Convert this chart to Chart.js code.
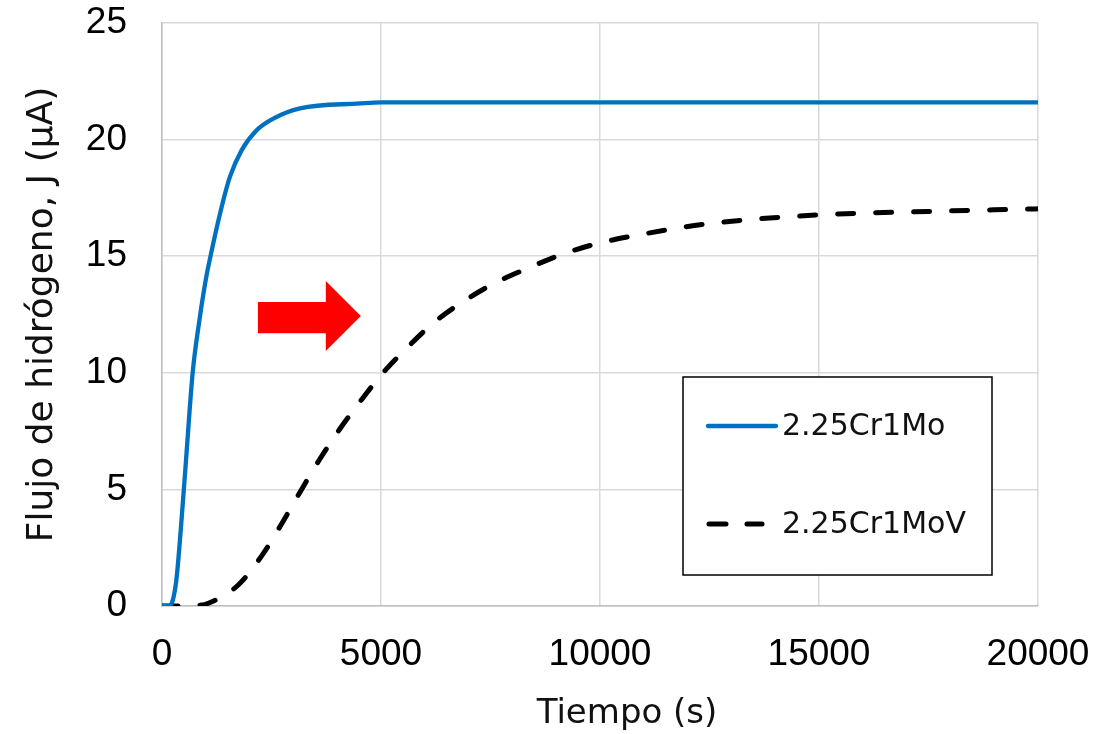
<!DOCTYPE html>
<html>
<head>
<meta charset="utf-8">
<script src="https://cdn.jsdelivr.net/npm/chart.js@4.4.1/dist/chart.umd.min.js"></script>
<style>
  html, body { margin: 0; padding: 0; background: #fff; }
  #wrap { width: 1112px; height: 734px; }
</style>
</head>
<body>
<div id="wrap"><canvas id="fluxChart" width="1112" height="734"></canvas></div>
<script>
// permeation transients, time in s, flux in µA
const seriesNames = ['2.25Cr1Mo', '2.25Cr1MoV'];

const timeCrMo = [0, 170, 320, 430, 550, 700, 850, 1000, 1130, 1360, 1550, 1820, 2160, 2540, 3150, 4520, 5000, 10000, 15000, 20000];
const fluxCrMo = [0, 0, 1.0, 3.3, 6.3, 10.0, 12.2, 14.0, 15.2, 17.1, 18.4, 19.55, 20.4, 20.9, 21.34, 21.55, 21.6, 21.6, 21.6, 21.6];

const timeCrMoV = [0, 400, 800, 1060, 1740, 2280, 2730, 3150, 3590, 4060, 4570, 5000, 5700, 6190, 6880, 7600, 8360, 9160, 10000, 11140, 12500, 15000, 17500, 20000];
const fluxCrMoV = [0, 0, 0.02, 0.12, 0.9, 2.16, 3.52, 4.88, 6.26, 7.59, 8.88, 9.9, 11.27, 12.13, 13.06, 13.85, 14.49, 15.1, 15.57, 16.0, 16.4, 16.77, 16.92, 17.03];

const xTicks = [0, 5000, 10000, 15000, 20000];
const yTicks = [0, 5, 10, 15, 20, 25];

// arrow outline in data units (s, µA)
const arrowTime = [2190, 3740, 4540];
const arrowFlux = [10.94, 11.7, 12.44, 13.04, 13.94];

const titleFont = '"DejaVu Sans", sans-serif';
const tickFont = '"Liberation Sans", Arial, sans-serif';

const toPoints = (xs, ys) => xs.map((x, i) => ({ x, y: ys[i] }));

const overlay = {
  id: 'overlay',
  afterDatasetsDraw(chart) {
    const { ctx, chartArea: { left, right }, scales: { x, y } } = chart;
    ctx.save();

    // red arrow
    const [tx0, tx1, tx2] = arrowTime.map(v => x.getPixelForValue(v));
    const [hb, bb, mid, bt, ht] = arrowFlux.map(v => y.getPixelForValue(v));
    ctx.fillStyle = '#ff0000';
    ctx.beginPath();
    ctx.moveTo(tx0, bt); ctx.lineTo(tx1, bt); ctx.lineTo(tx1, ht);
    ctx.lineTo(tx2, mid);
    ctx.lineTo(tx1, hb); ctx.lineTo(tx1, bb); ctx.lineTo(tx0, bb);
    ctx.closePath(); ctx.fill();

    // legend box
    const bx = 683, by = 377, bw = 309, bh = 198;
    ctx.fillStyle = '#fff';
    ctx.fillRect(bx, by, bw, bh);
    ctx.strokeStyle = '#000'; ctx.lineWidth = 1.5;
    ctx.strokeRect(bx, by, bw, bh);

    const rows = [426, 524];
    chart.data.datasets.forEach((ds, i) => {
      const yy = rows[i];
      ctx.strokeStyle = ds.borderColor;
      ctx.lineWidth = ds.borderWidth;
      ctx.lineCap = 'round';
      ctx.setLineDash(ds.borderDash ? [17, 21] : []);
      ctx.beginPath();
      if (ds.borderDash) { ctx.moveTo(709, yy); ctx.lineTo(762, yy); }
      else { ctx.moveTo(708, yy); ctx.lineTo(776, yy); }
      ctx.stroke();
      ctx.setLineDash([]);
      ctx.fillStyle = '#111';
      ctx.font = '30px ' + titleFont;
      ctx.textBaseline = 'middle';
      ctx.textAlign = 'left';
      ctx.fillText(ds.label, 782, yy + 1);
    });

    // x axis title
    ctx.fillStyle = '#111';
    ctx.font = '34px ' + titleFont;
    ctx.textAlign = 'center';
    ctx.textBaseline = 'middle';
    ctx.fillText('Tiempo (s)', (left + right) / 2 + 27, 714);
    ctx.restore();
  }
};

new Chart(document.getElementById('fluxChart').getContext('2d'), {
  type: 'line',
  data: {
    datasets: [
      {
        label: seriesNames[0],
        data: toPoints(timeCrMo, fluxCrMo),
        borderColor: '#0070c0',
        borderWidth: 4.3,
        pointRadius: 0,
        cubicInterpolationMode: 'monotone',
        fill: false
      },
      {
        label: seriesNames[1],
        data: toPoints(timeCrMoV, fluxCrMoV),
        borderColor: '#000000',
        borderWidth: 5,
        borderDash: [16, 22],
        borderCapStyle: 'round',
        pointRadius: 0,
        cubicInterpolationMode: 'monotone',
        fill: false
      }
    ]
  },
  options: {
    responsive: false,
    animation: false,
    devicePixelRatio: 1,
    layout: { padding: { top: 23, right: 74, left: 0, bottom: 0 } },
    plugins: { legend: { display: false }, tooltip: { enabled: false } },
    scales: {
      x: {
        type: 'linear',
        min: 0, max: 20000,
        afterBuildTicks: s => { s.ticks = xTicks.map(v => ({ value: v })); },
        afterFit: s => { s.height = 128; s.paddingLeft = 0; s.paddingRight = 0; },
        ticks: { color: '#000', padding: 27, font: { family: tickFont, size: 37 }, maxRotation: 0, callback: v => String(v) },
        grid: { color: '#d9d9d9', lineWidth: 1.5, drawTicks: false },
        border: { color: '#bfbfbf', width: 1.5 }
      },
      y: {
        min: 0, max: 25,
        afterBuildTicks: s => { s.ticks = yTicks.map(v => ({ value: v })); },
        afterFit: s => { s.width = 162; s.paddingTop = 0; s.paddingBottom = 0; },
        ticks: { color: '#000', padding: 35, font: { family: tickFont, size: 37 }, callback: v => String(v) },
        grid: { color: '#d9d9d9', lineWidth: 1.5, drawTicks: false },
        border: { color: '#bfbfbf', width: 1.5 },
        title: {
          display: true,
          text: 'Flujo de hidrógeno, J (µA)',
          color: '#111',
          font: { family: titleFont, size: 36, lineHeight: 1.2 },
          padding: { top: 21, bottom: 0 }
        }
      }
    }
  },
  plugins: [overlay]
});
</script>
</body>
</html>
